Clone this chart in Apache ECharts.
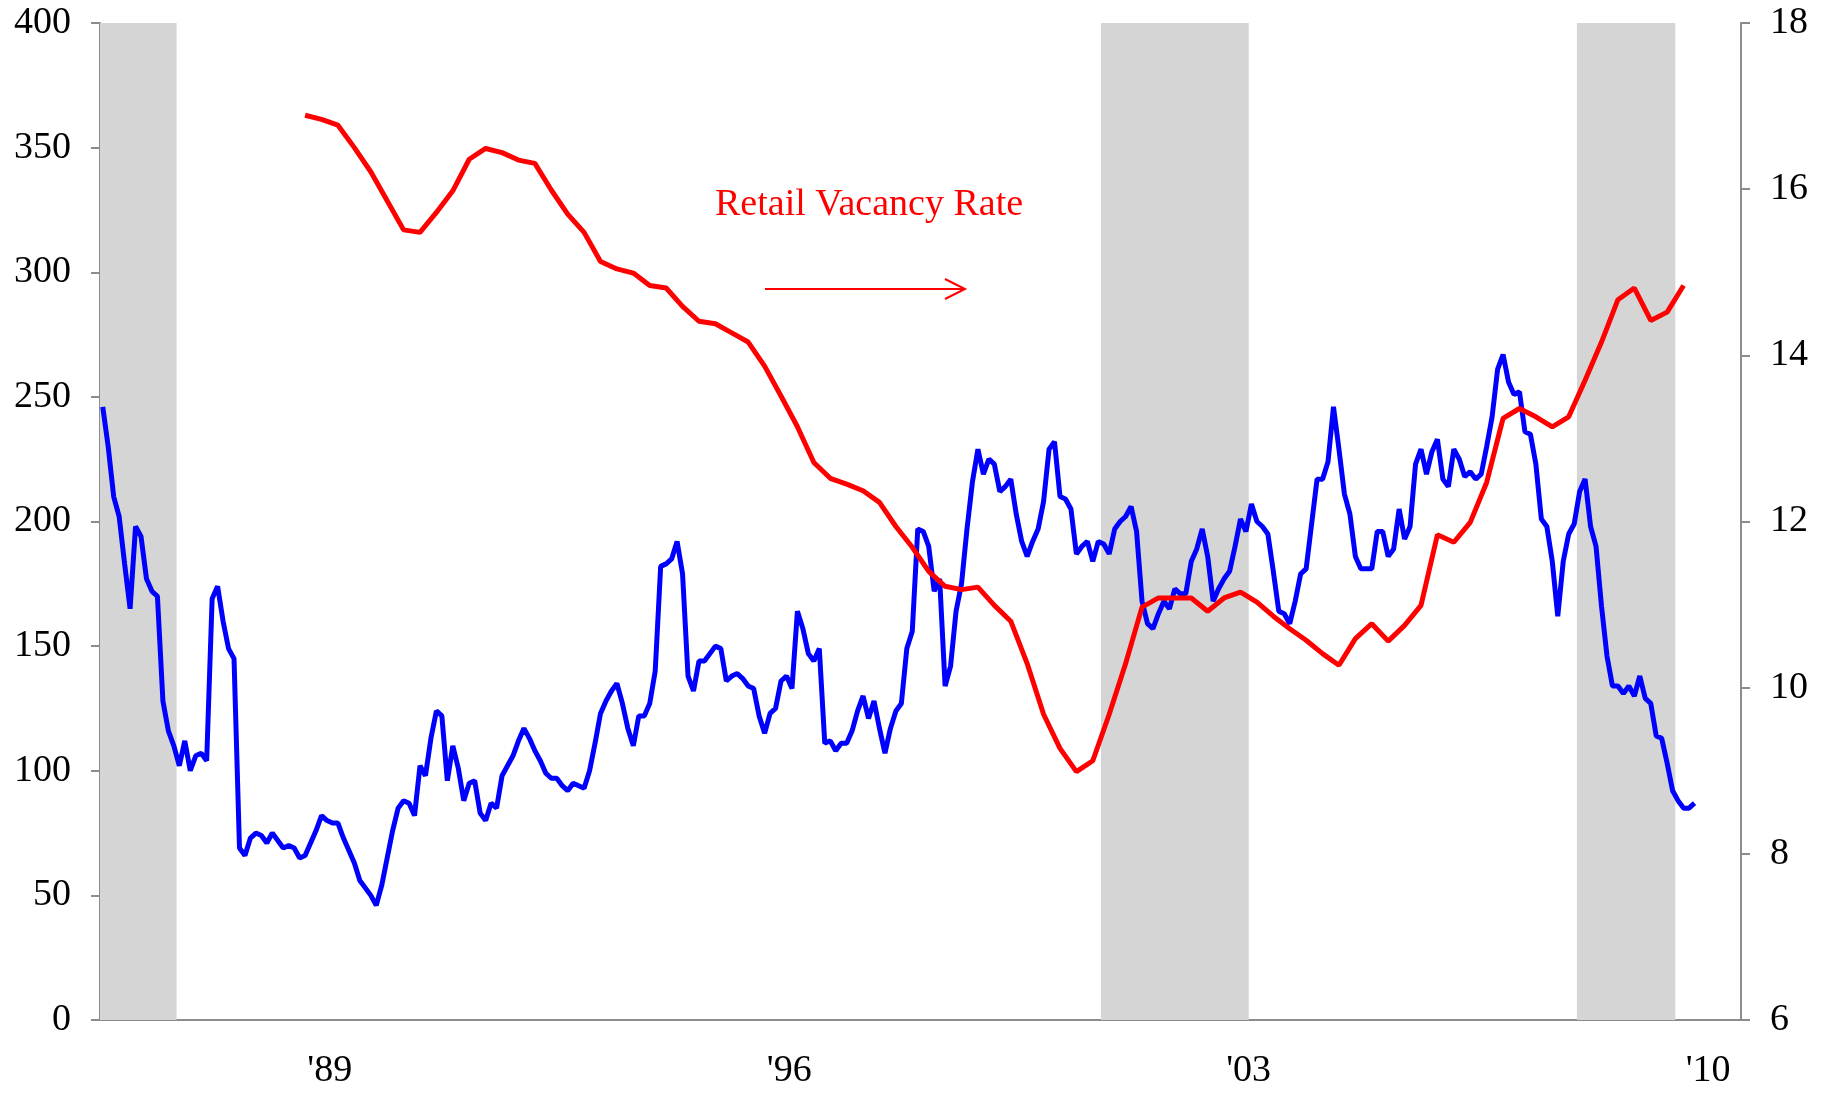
<!DOCTYPE html>
<html lang="en">
<head>
    <meta charset="UTF-8">
    <title>index</title>
    <script src="https://cdn.jsdelivr.net/npm/echarts@6/dist/echarts.min.js"></script>
    <style>
        html, body { margin: 0; padding: 0; background: #fff; }
        #chart { width: 1825px; height: 1093px; }
    </style>
</head>
<body>
<div id="chart"></div>
<script>
    // year categories shown under the axis (one slot per year)
    var yearLabels = ["'86","'87","'88","'89","'90","'91","'92","'93","'94","'95","'96","'97","'98",
        "'99","'00","'01","'02","'03","'04","'05","'06","'07","'08","'09","'10"];

    // blue series: monthly, starting Jan 1986 (left axis)
    var blueStart = 1986;
    var blueValues = [
        246,230,210,202,183,165,198,194,177,172,170,128,
        116,110,102,112,100,106,107,104,169,174,160,149,
        145,69,66,73,75,74,71,75,72,69,70,69,
        65,66,71,76,82,80,79,79,73,68,63,56,
        53,50,46,54,65,76,85,88,87,82,102,98,
        113,124,122,96,110,101,88,95,96,83,80,87,
        85,98,102,106,112,117,113,108,104,99,97,97,
        94,92,95,94,93,100,111,123,128,132,135,127,
        117,110,122,122,127,140,182,183,185,192,179,138,
        132,144,144,147,150,149,136,138,139,137,134,133,
        122,115,123,125,136,138,133,164,157,147,144,149,
        111,112,108,111,111,116,124,130,121,128,117,107,
        117,124,127,149,156,197,196,190,172,177,134,142,
        164,175,197,216,229,219,225,223,212,214,217,203,
        192,186,192,197,208,229,232,210,209,205,187,190,
        192,184,192,191,187,197,200,202,206,196,168,159,
        157,163,168,165,173,171,171,184,189,197,186,168,
        173,177,180,190,201,196,207,200,198,195,180,164,
        163,159,168,179,181,199,217,217,224,246,229,211,
        203,186,181,181,181,196,196,186,189,205,193,198,
        223,229,219,228,233,217,214,229,225,218,220,217,
        219,230,242,261,267,256,251,252,236,235,223,201,
        198,184,162,184,195,199,212,217,198,190,166,146,
        134,134,131,134,130,138,129,127,114,113,103,92,
        88,85,85,87
    ];

    // red series: quarterly retail vacancy rate, starting 1989 Q1 (right axis)
    var redStart = 1989;
    var redValues = [
        16.89,16.84,16.77,16.50,16.21,15.86,15.51,15.48,
        15.72,15.98,16.36,16.49,16.44,16.35,16.31,15.99,
        15.70,15.48,15.13,15.04,14.99,14.84,14.81,14.59,
        14.41,14.38,14.27,14.16,13.87,13.51,13.14,12.71,
        12.52,12.45,12.37,12.23,11.94,11.69,11.40,11.22,
        11.18,11.21,10.99,10.80,10.29,9.68,9.27,8.99,
        9.12,9.68,10.29,10.97,11.08,11.08,11.08,10.92,
        11.08,11.15,11.03,10.86,10.71,10.57,10.41,10.27,
        10.59,10.77,10.56,10.75,10.99,11.84,11.75,11.99,
        12.47,13.24,13.36,13.26,13.14,13.26,13.70,14.16,
        14.67,14.81,14.42,14.52,14.84
    ];

    // shaded recession periods (fractional years)
    var recessionStart = [1986.0, 2001.25, 2008.5];
    var recessionEnd = [1987.167, 2003.5, 2010.0];

    var blueData = blueValues.map(function (v, i) {
        return [blueStart + (i + 0.5) / 12, v];
    });
    var redData = redValues.map(function (v, i) {
        return [redStart + (i * 3 + 1.5) / 12, v];
    });
    var bands = recessionStart.map(function (s, i) {
        return [{xAxis: s}, {xAxis: recessionEnd[i]}];
    });

    var axisGray = '#8c8c8c';
    var font = 'Liberation Serif, Times New Roman, serif';

    var myChart = echarts.init(document.getElementById('chart'));
    var option = {
        animation: false,
        backgroundColor: '#fff',
        grid: {left: 100, right: 84, top: 23, bottom: 73},
        xAxis: [{
            type: 'value',
            min: 1986,
            max: 2011,
            show: false
        }, {
            type: 'category',
            data: yearLabels,
            boundaryGap: true,
            position: 'bottom',
            axisLine: {lineStyle: {color: axisGray, width: 2}},
            axisTick: {interval: 0, length: 9, lineStyle: {color: axisGray, width: 2}},
            axisLabel: {
                interval: function (index) { return index % 7 === 3; },
                color: '#000',
                fontFamily: font,
                fontSize: 38,
                margin: 32
            },
            splitLine: {show: false}
        }],
        yAxis: [{
            type: 'value',
            min: 0,
            max: 400,
            interval: 50,
            axisLine: {show: true, lineStyle: {color: axisGray, width: 2}},
            axisTick: {show: true, length: 9, lineStyle: {color: axisGray, width: 2}},
            axisLabel: {color: '#000', fontFamily: font, fontSize: 38, margin: 29},
            splitLine: {show: false}
        }, {
            type: 'value',
            min: 6,
            max: 18,
            interval: 2,
            position: 'right',
            axisLine: {show: true, lineStyle: {color: axisGray, width: 2}},
            axisTick: {show: true, length: 9, lineStyle: {color: axisGray, width: 2}},
            axisLabel: {color: '#000', fontFamily: font, fontSize: 38, margin: 29},
            splitLine: {show: false}
        }],
        series: [{
            name: 'blue',
            type: 'line',
            xAxisIndex: 0,
            yAxisIndex: 0,
            data: blueData,
            symbol: 'none',
            lineStyle: {color: '#0000ff', width: 5},
            z: 3,
            markArea: {
                silent: true,
                itemStyle: {color: '#d5d5d5'},
                data: bands
            }
        }, {
            name: 'Retail Vacancy Rate',
            type: 'line',
            xAxisIndex: 0,
            yAxisIndex: 1,
            data: redData,
            symbol: 'none',
            lineStyle: {color: '#ff0000', width: 5},
            z: 4
        }],
        graphic: [{
            type: 'text',
            left: 715,
            top: 186,
            style: {
                text: 'Retail Vacancy Rate',
                fill: '#ff0000',
                font: '38px ' + font
            }
        }, {
            type: 'line',
            shape: {x1: 765, y1: 289, x2: 965, y2: 289},
            style: {stroke: '#ff0000', lineWidth: 2}
        }, {
            type: 'polyline',
            shape: {points: [[945, 279], [965, 289], [945, 299]]},
            style: {stroke: '#ff0000', lineWidth: 2, fill: null}
        }]
    };
    myChart.setOption(option);
</script>
</body>
</html>
